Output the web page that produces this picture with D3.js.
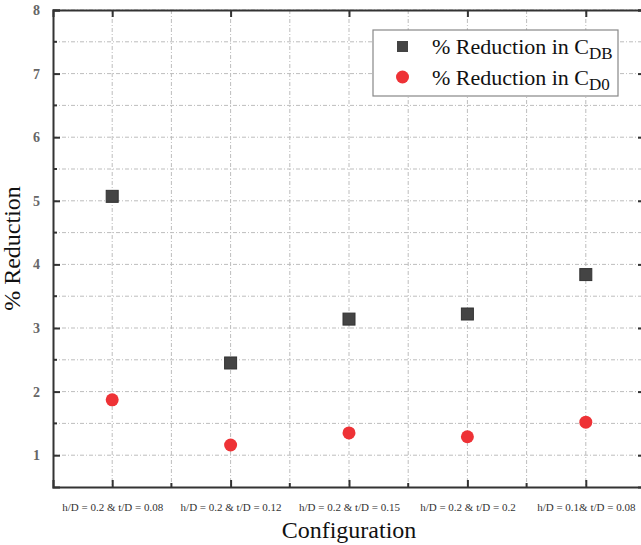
<!DOCTYPE html>
<html>
<head>
<meta charset="utf-8">
<script src="https://cdn.jsdelivr.net/npm/d3@7"></script>
<style>
  body { margin: 0; background: #fff; }
  svg text { font-family: "Liberation Serif", "DejaVu Serif", serif; }
  .grid line { stroke: #bdbdbd; stroke-width: 1; stroke-dasharray: 4,2,1,2; }
  .axis path, .axis line { stroke: #333; }
</style>
</head>
<body>
<div id="chart"></div>
<script>
var categories = ["h/D = 0.2 & t/D = 0.08", "h/D = 0.2 & t/D = 0.12", "h/D = 0.2 & t/D = 0.15", "h/D = 0.2 & t/D = 0.2", "h/D = 0.1& t/D = 0.08"];
var cdbValues = [5.07, 2.45, 3.14, 3.22, 3.84];
var cd0Values = [1.87, 1.16, 1.35, 1.29, 1.52];
var yTicks = [1, 2, 3, 4, 5, 6, 7, 8];

const W = 641, H = 545;
const margin = {top: 10, right: -4, bottom: 58, left: 53},
      width = W - margin.left - margin.right,
      height = H - margin.top - margin.bottom;

var svg = d3.select("#chart")
  .append("svg")
  .attr("width", W)
  .attr("height", H)
  .append("g")
  .attr("transform", "translate(" + margin.left + "," + margin.top + ")");

var x = d3.scaleLinear()
  .range([0, width])
  .domain([0.5, categories.length + 0.5]);
var y = d3.scaleLinear()
  .range([height, 0])
  .domain([0.5, 8]);

var xMajor = d3.range(1, categories.length + 1);
var xMinor = d3.range(1.5, categories.length, 1);
var yMinor = d3.range(1.5, 8, 1);

// grid
var grid = svg.append("g").attr("class", "grid");
grid.selectAll(".gx")
  .data(xMajor.concat(xMinor))
  .enter().append("line")
  .attr("x1", function(d) {return x(d);})
  .attr("x2", function(d) {return x(d);})
  .attr("y1", 0).attr("y2", height);
grid.selectAll(".gy")
  .data(yTicks.concat(yMinor))
  .enter().append("line")
  .attr("y1", function(d) {return y(d);})
  .attr("y2", function(d) {return y(d);})
  .attr("x1", 0).attr("x2", width);

// axes
var xAxis = d3.axisBottom(x)
  .tickValues(xMajor)
  .tickSize(-7)
  .tickPadding(16)
  .tickFormat(function(d) {return categories[d - 1];});
var gx = svg.append("g")
  .attr("class", "axis axis-x")
  .attr("transform", "translate(0," + height + ")")
  .call(xAxis);
gx.attr("font-family", null);
gx.select(".domain").attr("stroke-width", 2);
gx.selectAll(".tick line").attr("stroke-width", 2);
gx.selectAll(".tick text")
  .attr("fill", "#333")
  .style("font-size", "11px");
gx.selectAll(".minor")
  .data(xMinor)
  .enter().append("line")
  .attr("x1", function(d) {return x(d);})
  .attr("x2", function(d) {return x(d);})
  .attr("y1", 0).attr("y2", -4)
  .attr("stroke", "#333").attr("stroke-width", 2);

var yAxis = d3.axisLeft(y)
  .tickValues(yTicks)
  .tickSize(-7)
  .tickPadding(13)
  .tickFormat(d3.format("d"));
var gy = svg.append("g")
  .attr("class", "axis axis-y")
  .call(yAxis);
gy.attr("font-family", null);
gy.select(".domain").attr("stroke-width", 2);
gy.selectAll(".tick line").attr("stroke-width", 2);
gy.selectAll(".tick text")
  .attr("fill", "#666")
  .style("font-size", "14px")
  .style("font-weight", "bold");
gy.selectAll(".minor")
  .data(yMinor)
  .enter().append("line")
  .attr("y1", function(d) {return y(d);})
  .attr("y2", function(d) {return y(d);})
  .attr("x1", 0).attr("x2", 4)
  .attr("stroke", "#333").attr("stroke-width", 2);

// top border with ticks
var gTop = svg.append("g").attr("class", "axis axis-top")
  .call(d3.axisTop(x).tickValues(xMajor).tickSize(-7).tickFormat(""));
gTop.select(".domain").attr("stroke-width", 2);
gTop.selectAll(".tick line").attr("stroke-width", 2);

// right border ticks (mostly outside the visible area)
var gRight = svg.append("g").attr("class", "axis axis-right")
  .attr("transform", "translate(" + width + ",0)")
  .call(d3.axisRight(y).tickValues(yTicks).tickSize(-7).tickFormat(""));
gRight.select(".domain").attr("stroke-width", 2);
gRight.selectAll(".tick line").attr("stroke-width", 2);

// axis titles
svg.append("text")
  .attr("x", x(3))
  .attr("y", height + 51)
  .attr("text-anchor", "middle")
  .style("font-size", "24px")
  .attr("fill", "#111")
  .text("Configuration");
svg.append("text")
  .attr("transform", "translate(" + (-33) + "," + y(4.25) + ") rotate(-90)")
  .attr("text-anchor", "middle")
  .style("font-size", "24px")
  .attr("fill", "#111")
  .text("% Reduction");

// points
svg.selectAll(".cdb")
  .data(cdbValues)
  .enter().append("rect")
  .attr("class", "cdb")
  .attr("x", function(d, i) {return x(i + 1) - 6;})
  .attr("y", function(d) {return y(d) - 6;})
  .attr("width", 12).attr("height", 12)
  .style("fill", "#444")
  .style("stroke", "#333");
svg.selectAll(".cd0")
  .data(cd0Values)
  .enter().append("circle")
  .attr("class", "cd0")
  .attr("cx", function(d, i) {return x(i + 1);})
  .attr("cy", function(d) {return y(d);})
  .attr("r", 6.5)
  .style("fill", "#ee3236");

// legend
var legend = svg.append("g").attr("transform", "translate(320,20)");
legend.append("rect")
  .attr("width", 245).attr("height", 66)
  .style("fill", "#fff").style("stroke", "#888").style("stroke-width", 1.2);
legend.append("rect")
  .attr("x", 24).attr("y", 11).attr("width", 11).attr("height", 11)
  .style("fill", "#444");
legend.append("circle")
  .attr("cx", 29.5).attr("cy", 47).attr("r", 6.5)
  .style("fill", "#ee3236");
var l1 = legend.append("text")
  .attr("x", 59).attr("y", 24)
  .style("font-size", "22px").attr("fill", "#111");
l1.append("tspan").text("% Reduction in C");
l1.append("tspan").attr("dy", 5).style("font-size", "17px").text("DB");
var l2 = legend.append("text")
  .attr("x", 59).attr("y", 55)
  .style("font-size", "22px").attr("fill", "#111");
l2.append("tspan").text("% Reduction in C");
l2.append("tspan").attr("dy", 5).style("font-size", "17px").text("D0");
</script>
</body>
</html>
